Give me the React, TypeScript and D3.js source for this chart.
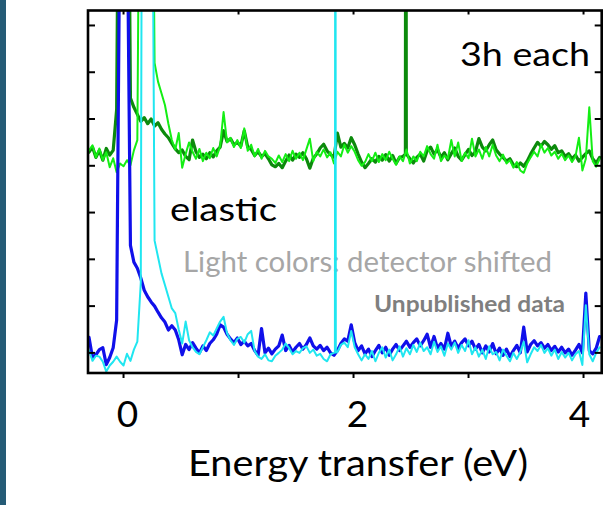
import React from "react";
import * as d3 from "d3";

// Energy channels (eV): evenly spaced bins of 0.03 eV
const CHANNELS = 149;
const E_START = -0.3;
const E_STEP = 0.03;
const ENERGY = d3.range(CHANNELS).map((i) => +(E_START + E_STEP * i).toFixed(2));

// Axis extents and ticks
const X_DOMAIN = [-0.309, 4.158];
const Y_DOMAIN = [-4.3, 73.2];
const X_TICKS = [0, 1, 2, 3, 4];
const X_TICK_LABELS = [0, 2, 4];
const Y_TICKS = [0, 10, 20, 30, 40, 50, 60, 70];

// Upper pair: 3h runs, dark = nominal detector, light = detector shifted
const DARK_GREEN = [
  42.9, 44.0, 41.8, 43.3, 41.2, 43.7, 42.3, 43.3, 52, 150,
  300, 150, 54.5, 52.5, 51, 49.5, 50.3, 49, 50, 48.5,
  49.2, 47.8, 46.8, 46, 44.8, 43.6, 42.8, 43.4, 42, 41.3,
  45.5, 43.0, 41.8, 42.5, 41.5, 42.8, 41.9, 43.2, 44.0, 47.5,
  45.2, 45.8, 44.5, 45.0, 44.2, 47.5, 44.0, 43.5, 42.2, 43.0,
  42.0, 42.6, 41.5, 40.2, 39.8, 40.5, 39.6, 41.0, 42.3, 41.2,
  42.5, 41.8, 42.8, 41.5, 39.5, 41.6, 42.5, 43.8, 44.6, 43.2,
  42.4, 41.8, 47.0, 44.0, 44.8, 43.8, 46.0, 44.5, 42.5, 40.8,
  39.6, 40.5, 41.5, 40.8, 42.0, 41.2, 42.4, 41.0, 42.2, 40.5,
  41.8, 42.0, 42.5, 41.5, 40.6, 41.8, 42.5, 41.0, 43.2, 44.0,
  42.5, 43.5, 41.8, 42.8, 41.3, 42.6, 43.8, 42.0, 41.2, 42.4,
  43.5, 42.2, 43.0, 45.8, 44.0, 43.2, 44.5, 45.5, 43.4, 42.5,
  41.8, 41.0, 41.5, 40.2, 39.8, 40.6, 39.9, 41.0, 42.5, 43.8,
  45.0, 44.2, 45.2, 44.5, 43.5, 44.3, 42.8, 43.2, 42.0, 42.6,
  41.5, 42.3, 41.0, 41.8, 42.6, 43.2, 41.5, 40.6, 41.8,
];
// narrow spike recorded between channels
const DARK_GREEN_SPIKE: [number, number][] = [[2.451, 42.5], [2.455, 160], [2.459, 42.5]];

const LIGHT_GREEN = [
  43.3, 44.4, 41.8, 43.7, 41.2, 42.9, 39.7, 41.6, 38.6, 40.5,
  39.9, 41.2, 40.1, 43.3, 45.5, 150, 300, 300, 150, 62,
  58, 55.5, 53, 49, 45.5, 43.5, 47, 39.6, 42.5, 45.0,
  43.0, 41.5, 43.6, 41.0, 42.8, 41.6, 43.8, 42.0, 44.2, 51.5,
  45.0, 46.0, 44.0, 45.5, 43.8, 48.0, 43.2, 44.5, 42.0, 43.6,
  41.5, 43.2, 42.0, 41.5, 40.6, 42.2, 40.8, 42.5, 41.0, 43.2,
  41.5, 42.8, 41.2, 43.5, 45.8, 41.0, 43.0, 42.0, 43.5, 41.8,
  42.9, 40.5, 43.0, 42.0, 44.5, 42.8, 44.2, 43.0, 41.2, 40.0,
  40.8, 42.5, 41.0, 42.8, 40.8, 42.5, 41.2, 43.0, 41.5, 40.2,
  42.0, 41.0, 43.5, 40.5, 42.0, 41.0, 43.0, 42.0, 44.2, 42.5,
  41.5, 44.5, 41.0, 42.2, 41.5, 45.5, 42.0, 45.0, 41.0, 42.8,
  41.6, 45.8, 42.0, 43.5, 41.5, 44.0, 42.0, 44.5, 42.2, 41.0,
  42.4, 40.5, 41.2, 39.6, 40.8, 39.0, 38.5, 40.5, 41.8, 43.0,
  42.0, 44.5, 42.8, 43.8, 42.2, 43.0, 41.5, 42.6, 41.2, 42.2,
  40.8, 42.0, 46.0, 39.0, 41.5, 52.5, 41.0, 39.8, 41.5,
];

// Lower pair: elastic runs, dark = nominal detector, light = detector shifted
const BLUE = [
  3.3, -1.0, -0.4, 0.7, 1.1, -2.5, -1.0, 1.1, 7, 100,
  300, 100, 23, 19.4, 18.1, 16, 13.4, 12, 10.9, 10,
  8.7, 7.5, 6.6, 4.9, 5.8, 4.9, 2.8, -0.4, 1.8, 0.7,
  2.2, 1.0, 0.0, 1.5, 0.5, 2.0, 2.8, 4.0, 6.0, 5.5,
  4.0, 3.0, 2.2, 3.2, 1.8, 2.5, 1.5, 2.0, 0.5, -0.5,
  5.2, 0.0, 1.0, -0.2, 0.8, 1.5, 3.8, 0.5, 1.6, 0.2,
  1.2, 2.0, 0.8, 1.8, 3.2, 1.5, 0.8, 1.6, 0.5, 1.2,
  0.0, -0.5, 0.5, 2.0, 3.0, 2.5, 6.0, 2.2, 0.5, 1.5,
  -0.2, 0.8, -0.8, 0.5, 1.6, 0.0, 1.2, -0.5, 0.8, 1.8,
  0.5, 1.5, 2.5, 1.2, 2.2, 3.0, 1.5, 2.6, 4.0, 1.2,
  3.5, 1.0, 2.0, 0.8, 4.2, 1.4, 2.5, 1.0, 2.2, 3.0,
  1.5, 2.5, 0.8, 1.8, 0.0, 1.5, 0.2, 2.0, -0.2, 1.0,
  -0.5, 0.8, -0.8, 0.5, 1.6, 0.0, 5.5, 0.2, 1.8, 2.6,
  1.5, 2.2, 1.0, 1.8, 0.5, 1.4, 0.2, 1.2, 0.0, 0.8,
  -0.5, 0.6, 1.8, 0.0, 12.8, 0.5, -0.2, 1.0, 3.5,
];

const CYAN = [
  0.5, -1.7, -0.6, -0.8, -1.9, -4.0, -2.7, -1.9, -0.8, -1.9,
  -2.7, -0.2, -1.7, 0.7, 2.4, 15, 300, 300, 150, 24,
  20.5, 17, 14.5, 12, 9.5, 8.5, 5.0, 2.0, 6.7, 2.7,
  1.2, 0.2, -0.3, 1.2, 2.7, 4.4, 3.7, 5.2, 6.7, 7.7,
  4.2, 2.7, 1.7, 3.0, 3.4, 2.2, 4.0, 4.7, 0.4, -0.8,
  -1.3, -0.3, -1.6, -1.8, -0.6, 0.0, 0.7, 2.0, 1.0, -0.3,
  0.4, 0.0, 1.0, 1.4, 0.0, 0.7, -0.6, -0.2, -1.3, -1.8,
  -0.3, 0.0, 0.2, 1.7, 2.2, 1.2, 4.7, 1.2, -0.3, -1.6,
  -0.3, -1.3, 0.4, -1.8, 0.0, 1.2, -1.0, 0.7, -1.6, -0.3,
  1.4, -0.8, 1.0, -0.3, 1.7, 0.2, 2.2, 0.4, 1.2, -0.3,
  2.4, 0.2, 1.4, -0.6, 2.0, 0.7, 2.2, 0.0, 1.7, 0.4,
  2.7, -0.3, 1.2, -0.8, 0.7, -1.3, 1.4, -0.3, 0.2, -1.6,
  0.7, -0.6, -1.8, 0.0, -1.3, 0.2, 2.4, -2.0, -0.3, 1.2,
  0.4, 1.7, 0.0, 1.0, -0.6, 0.7, -1.3, 0.2, -1.0, 0.0,
  -1.6, -0.3, 0.4, -2.6, 10.2, -0.3, -1.8, 0.0, 1.2,
];
// narrow spike recorded between channels
const CYAN_SPIKE: [number, number][] = [[1.838, 0.1], [1.842, 160], [1.846, 0.1]];

const SERIES = [
  { name: "3h, detector nominal", values: DARK_GREEN, extra: DARK_GREEN_SPIKE, color: "#0c8a0c", width: 3.2 },
  { name: "3h, detector shifted", values: LIGHT_GREEN, extra: [] as [number, number][], color: "#14ee14", width: 2 },
  { name: "elastic, detector nominal", values: BLUE, extra: [] as [number, number][], color: "#1010ea", width: 3.2 },
  { name: "elastic, detector shifted", values: CYAN, extra: CYAN_SPIKE, color: "#20e6f0", width: 2 },
];

const FONT = "Lato, 'Open Sans', sans-serif";

function toPoints(values: number[], extra: [number, number][]): [number, number][] {
  const pts: [number, number][] = ENERGY.map((e, i) => [e, values[i]]);
  return pts.concat(extra).sort((a, b) => a[0] - b[0]);
}

export default function App() {
  const W = 615;
  const H = 505;
  const left = 88;
  const right = 601.7;
  const top = 10.5;
  const bottom = 373;

  const x = d3.scaleLinear().domain(X_DOMAIN).range([left, right]);
  const y = d3.scaleLinear().domain(Y_DOMAIN).range([bottom, top]);

  const line = d3
    .line<[number, number]>()
    .x((d) => x(d[0]))
    .y((d) => y(d[1]));

  return (
    <svg
      width={W}
      height={H}
      viewBox={`0 0 ${W} ${H}`}
      style={{ position: "absolute", left: 0, top: 0, background: "#ffffff" }}
    >
      <defs>
        <clipPath id="plot-area">
          <rect x={left} y={top} width={right - left} height={bottom - top} />
        </clipPath>
      </defs>

      {/* slide edge band */}
      <rect x={0} y={0} width={6} height={H} fill="#255b76" />

      {/* annotations */}
      <text x={525} y={66} fontFamily={FONT} fontSize={32} textAnchor="middle" textLength={130} lengthAdjust="spacingAndGlyphs" fill="#000">
        3h each
      </text>
      <text x={170} y={221} fontFamily={FONT} fontSize={32} textLength={107} lengthAdjust="spacingAndGlyphs" fill="#000">
        elastic
      </text>
      <text x={183} y={272} fontFamily={FONT} fontSize={29} textLength={369} lengthAdjust="spacingAndGlyphs" fill="#a6a6a6">
        Light colors: detector shifted
      </text>
      <text x={374} y={312} fontFamily={FONT} fontSize={22} fontWeight={700} textLength={191} lengthAdjust="spacingAndGlyphs" fill="#7f7f7f">
        Unpublished data
      </text>

      {/* spectra */}
      <g clipPath="url(#plot-area)">
        {SERIES.map((s) => (
          <path
            key={s.name}
            d={line(toPoints(s.values, s.extra)) ?? ""}
            fill="none"
            stroke={s.color}
            strokeWidth={s.width}
            strokeLinejoin="round"
            strokeLinecap="round"
          />
        ))}
      </g>

      {/* ticks */}
      <g stroke="#000" strokeWidth={2}>
        {Y_TICKS.map((t) => (
          <g key={`y${t}`}>
            <line x1={left} x2={left + 7} y1={y(t)} y2={y(t)} />
            <line x1={right - 7} x2={right} y1={y(t)} y2={y(t)} />
          </g>
        ))}
        {X_TICKS.map((t) => (
          <g key={`x${t}`}>
            <line x1={x(t)} x2={x(t)} y1={top} y2={top + 4} />
            <line x1={x(t)} x2={x(t)} y1={bottom} y2={bottom + 5} />
          </g>
        ))}
      </g>

      {/* frame */}
      <rect
        x={left}
        y={top}
        width={right - left}
        height={bottom - top}
        fill="none"
        stroke="#000"
        strokeWidth={2.6}
      />

      {/* x tick labels */}
      {X_TICK_LABELS.map((t) => (
        <text
          key={`l${t}`}
          x={x(t) + (t === 4 ? -4 : 4)}
          y={427}
          fontFamily={FONT}
          fontSize={37}
          textAnchor="middle"
          fill="#000"
        >
          {t}
        </text>
      ))}

      {/* x axis title */}
      <text
        x={358}
        y={476}
        fontFamily={FONT}
        fontSize={36}
        textAnchor="middle"
        textLength={340}
        lengthAdjust="spacingAndGlyphs"
        fill="#000"
      >
        Energy transfer (eV)
      </text>
    </svg>
  );
}
